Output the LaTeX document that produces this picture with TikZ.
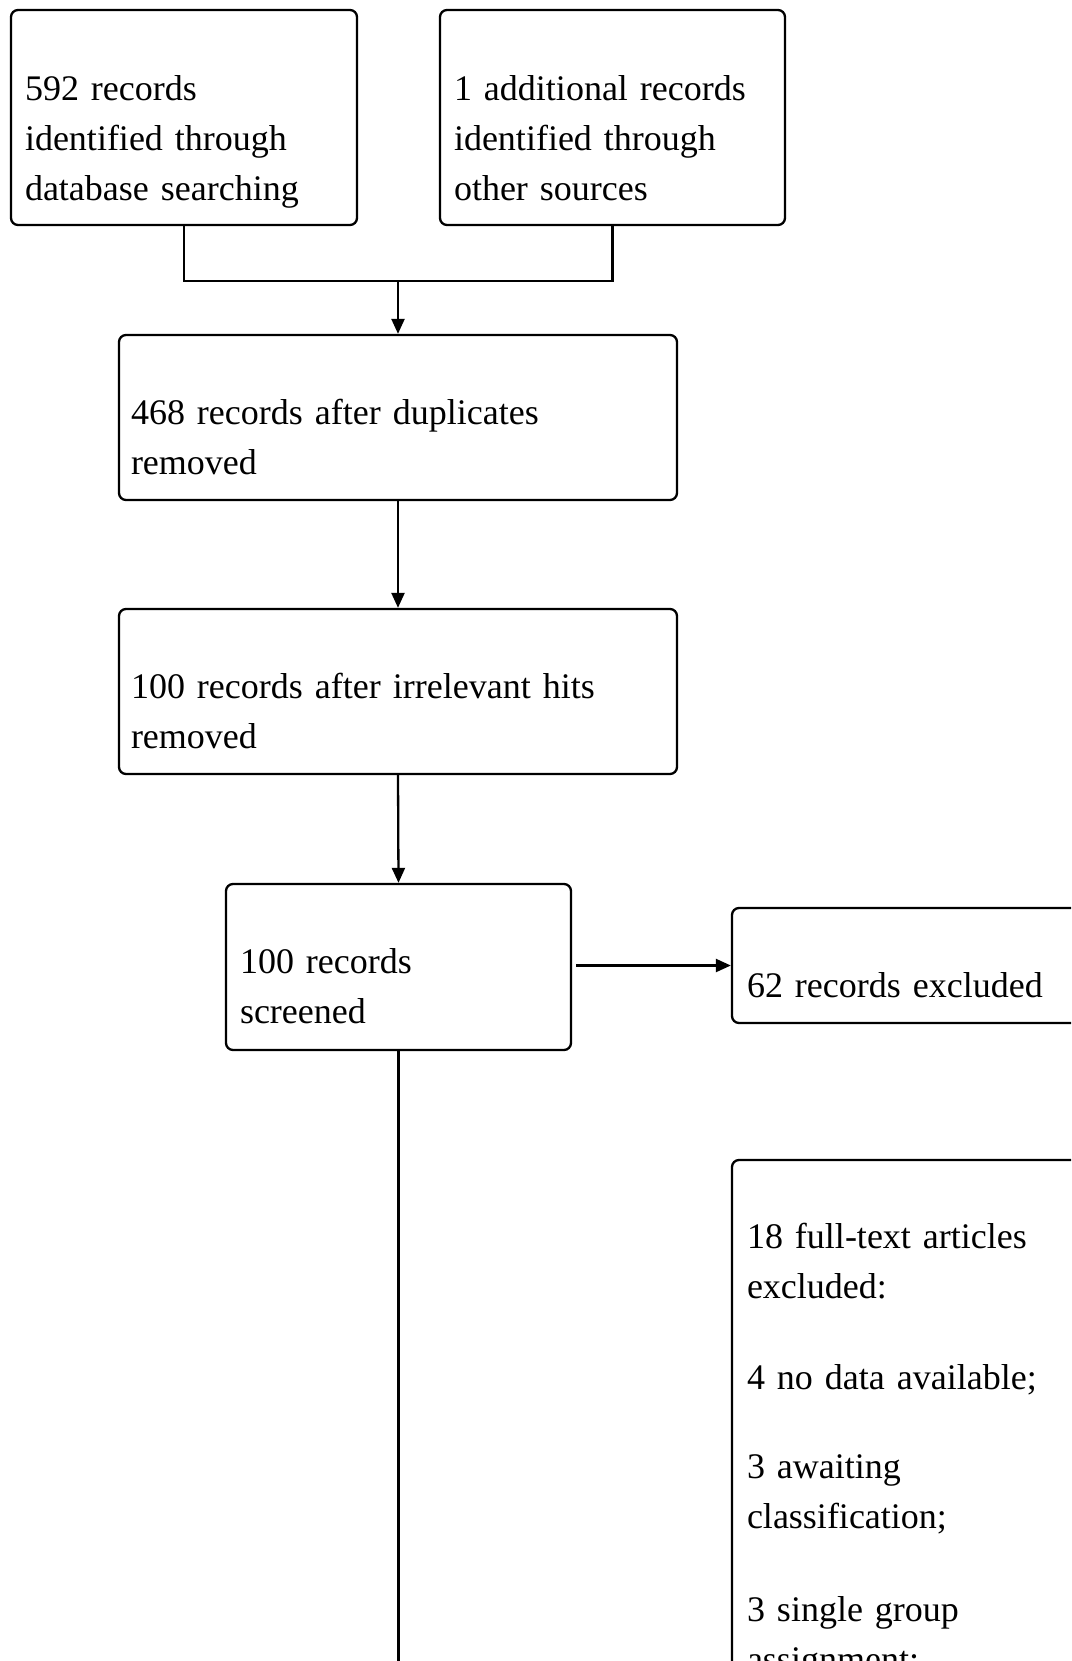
\documentclass[tikz,border=0pt]{standalone}
\usepackage{fontspec}
\setmainfont{Liberation Serif}
\usepackage{tikz}
\usetikzlibrary{calc}
\usetikzlibrary{arrows.meta}

\begin{document}
\begin{tikzpicture}[x=1pt,y=-1pt,line width=2.3pt,
box/.style={draw, rounded corners=7pt, inner sep=0pt},
txt/.style={anchor=base west, inner sep=0pt, align=left, text width=600pt, font=\fontsize{36}{50}\selectfont},
arr/.style={-{Triangle[length=15pt,width=13pt]}}]
\useasboundingbox (0,0) rectangle (1071,1661);
\fill[white] (0,0) rectangle (1071,1661);
\clip (0,0) rectangle (1071,1661);
\node[box, minimum width=346pt, minimum height=215pt] (b1) at (184,117.5) {};
\node[box, minimum width=345pt, minimum height=215pt] (b2) at (612.5,117.5) {};
\node[box, minimum width=558pt, minimum height=165pt] (b3) at (398,417.5) {};
\node[box, minimum width=558pt, minimum height=165pt] (b4) at (398,691.5) {};
\node[box, minimum width=345pt, minimum height=166pt] (b5) at (398.5,967) {};
\node[box, minimum width=368pt, minimum height=115pt] (b6) at (916,965.5) {};
\node[box, minimum width=368pt, minimum height=640pt] (b7) at (916,1480) {};
\node[txt] (t1) at ([xshift=14pt,yshift=-92pt]b1.north west) {592 records\\identified through\\database searching};
\node[txt] (t2) at ([xshift=14pt,yshift=-92pt]b2.north west) {1 additional records\\identified through\\other sources};
\node[txt] (t3) at ([xshift=12pt,yshift=-91pt]b3.north west) {468 records after duplicates\\removed};
\node[txt] (t4) at ([xshift=12pt,yshift=-91pt]b4.north west) {100 records after irrelevant hits\\removed};
\node[txt] (t5) at ([xshift=14pt,yshift=-91pt]b5.north west) {100 records\\screened};
\node[txt] (t6) at ([xshift=15pt,yshift=-91pt]b6.north west) {62 records excluded};
\node[txt] (t7) at ([xshift=15pt,yshift=-90pt]b7.north west) {18 full-text articles\\excluded:\\[41pt]4 no data available;\\[39pt]3 awaiting\\classification;\\[43pt]3 single group\\assignment;};
\coordinate (j) at (398,281);
\coordinate (end) at (398.5,1700);
\draw (b1.south) -- (b1.south |- j) -- (b2.south |- j) -- (b2.south);
\draw[arr] (j) -- (b3.north);
\draw[arr] (b3.south) -- (b4.north);
\draw[arr] (b4.south) -- (b5.north);
\draw[arr] ([xshift=4pt]b5.east |- b6.west) -- (b6.west);
\draw (b5.south) -- (end);
\end{tikzpicture}
\end{document}
